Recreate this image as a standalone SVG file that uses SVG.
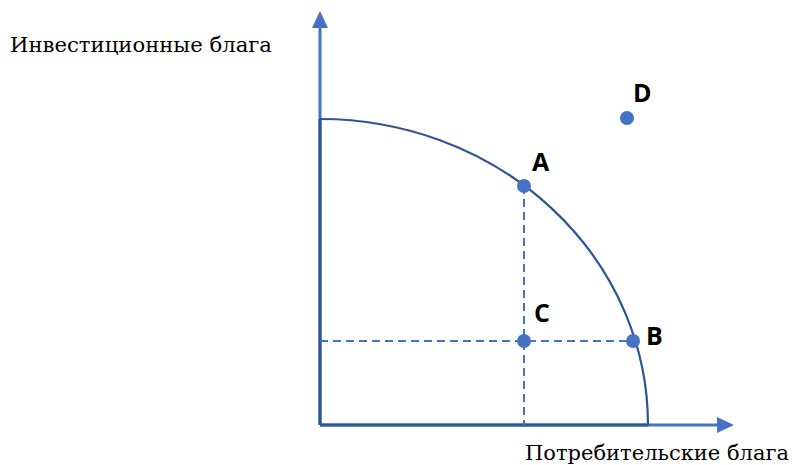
<svg xmlns="http://www.w3.org/2000/svg" width="792" height="465" viewBox="0 0 792 465">
<style>
.axis{stroke:#4472C4;stroke-width:3;fill:none}
.frame{stroke:#2F5597;stroke-width:3;fill:none}
.curve{stroke:#2F5597;stroke-width:2.2;fill:none}
.dash{stroke:#4472C4;stroke-width:2;stroke-dasharray:8,5;fill:none}
.dot{fill:#4472C4}
.lbl{font-family:"Open Sans","Liberation Sans",sans-serif;font-weight:bold;font-size:25px;fill:#000}
.ax{font-family:"DejaVu Serif","Liberation Serif",serif;font-size:20px;fill:#000}
.head{fill:#4472C4}
</style>
<g id="connectors">
<line class="axis" x1="320" y1="425" x2="320" y2="26"/>
<polygon class="head" points="320,11 312,28 328,28"/>
<line class="axis" x1="320" y1="425" x2="720" y2="425"/>
<polygon class="head" points="734,425 717,417 717,433"/>
<path class="frame" d="M320,425 L320,119 M320,425 L648,425"/>
<path class="curve" d="M320,119 A328,306 0 0 1 648,425"/>
<line class="dash" x1="524" y1="186" x2="524" y2="425"/>
<line class="dash" x1="320" y1="341" x2="633" y2="341"/>
</g>
<g id="A"><circle class="dot" cx="524" cy="186" r="7"/><text class="lbl" x="532" y="171">A</text></g>
<g id="B"><circle class="dot" cx="633" cy="341" r="7"/><text class="lbl" x="646" y="345">B</text></g>
<g id="C"><circle class="dot" cx="524" cy="341" r="7"/><text class="lbl" x="534" y="322">C</text></g>
<g id="D"><circle class="dot" cx="627" cy="118" r="7"/><text class="lbl" x="633" y="102">D</text></g>
<g id="yLabel"><text class="ax" x="10" y="52" textLength="262" lengthAdjust="spacingAndGlyphs">Инвестиционные блага</text></g>
<g id="xLabel"><text class="ax" x="525" y="460" textLength="264" lengthAdjust="spacingAndGlyphs">Потребительские блага</text></g>
</svg>
